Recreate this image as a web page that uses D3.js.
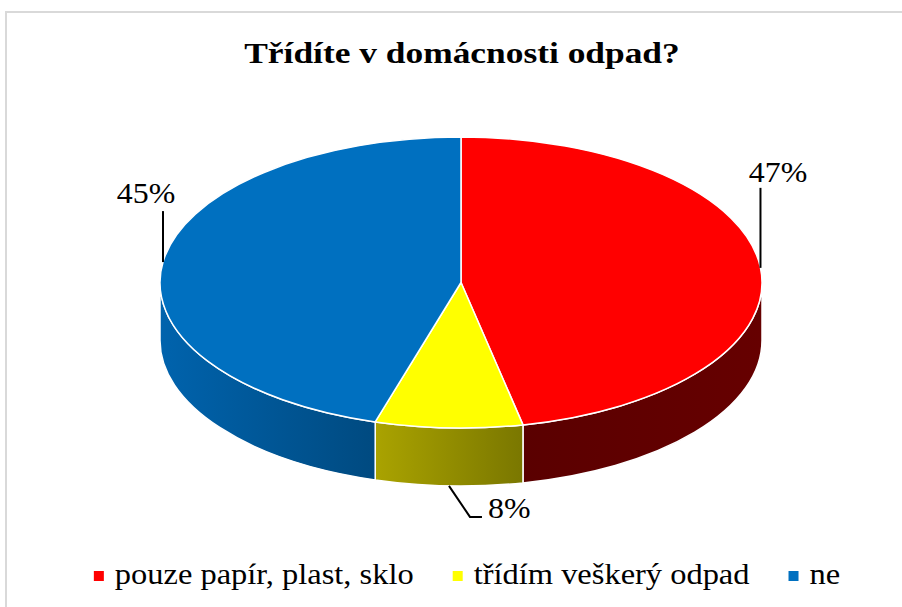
<!DOCTYPE html>
<html lang="cs">
<head>
<meta charset="utf-8">
<title>Třídíte v domácnosti odpad?</title>
<script src="https://cdn.jsdelivr.net/npm/d3@7/dist/d3.min.js"></script>
<style>
  body { margin: 0; background: #fff; }
  text { font-family: "Liberation Serif", "Times New Roman", serif; fill: #000; }
  .title { font-size: 30px; font-weight: bold; }
  .pct { font-size: 29px; }
  .leg { font-size: 29px; }
  .leader { fill: none; stroke: #000; stroke-width: 2px; }
</style>
</head>
<body>
<script>
// data
var categories = ["pouze papír, plast, sklo", "třídím veškerý odpad", "ne"];
var values = [46.7, 7.9, 45.4];
var topColors = ["#ff0000", "#ffff00", "#0070c0"];
var sideColors = [["#5a0000", "#660000"], ["#aaa300", "#7a7700"], ["#0063ad", "#004a80"]];

var w = 902, h = 607;
var cx = 461, cy = 282.5, rx = 301, ry = 145.5, depth = 58;
var fmt = d3.format(".0%");

// leader lines: anchor angle on the rim, dy = on top face or bottom of wall
var leaderLayout = [
  { angle: 1.47, dy: 0, pts: [[0, -80]], tx: 17.5, ty: -86, anchor: "middle" },
  { angle: Math.PI + 0.04, dy: depth, pts: [[21, 31], [33, 31]], tx: 39, ty: 32, anchor: "start" },
  { angle: 2 * Math.PI - 1.43, dy: 0, pts: [[0, -51]], tx: -17, ty: -59, anchor: "middle" }
];

var svg = d3.select("body").append("svg").attr("width", w).attr("height", h);

svg.append("rect").attr("x", 6).attr("y", 12).attr("width", w).attr("height", h)
   .attr("fill", "#fff").attr("stroke", "#d9d9d9").attr("stroke-width", 2);

// source text looks a bit stretched sideways, so squeeze it in with a scale
function stretchText(parent, x, y, str, cls, anchor, k) {
  var g = parent.append("g").attr("transform", "translate(" + x + "," + y + ") scale(" + k + ",1)");
  return g.append("text").attr("class", cls).attr("text-anchor", anchor || "start").text(str);
}

stretchText(svg, 462, 63, "Třídíte v domácnosti odpad?", "title", "middle", 1.18);

function pt(a, dy) {
  return [cx + rx * Math.sin(a), cy + dy - ry * Math.cos(a)];
}

var total = d3.sum(values);
var arcs = d3.pie().sort(null).value(function(d) { return d; })(values);

var defs = svg.append("defs");
var gWalls = svg.append("g");
var gTop = svg.append("g");

arcs.forEach(function(d, i) {
  var s = Math.max(d.startAngle, Math.PI / 2);
  var e = Math.min(d.endAngle, 3 * Math.PI / 2);
  if (e <= s) return;
  var a = pt(s, 0), b = pt(e, 0), c = pt(e, depth), f = pt(s, depth);
  var large = (e - s) > Math.PI ? 1 : 0;
  var id = "side" + i;
  var grad = defs.append("linearGradient").attr("id", id)
     .attr("gradientUnits", "userSpaceOnUse")
     .attr("x1", Math.min(a[0], b[0])).attr("x2", Math.max(a[0], b[0]))
     .attr("y1", 0).attr("y2", 0);
  grad.append("stop").attr("offset", 0).attr("stop-color", sideColors[i][0]);
  grad.append("stop").attr("offset", 1).attr("stop-color", sideColors[i][1]);
  var p = "M" + a + " A" + rx + "," + ry + " 0 " + large + " 1 " + b +
          " L" + c + " A" + rx + "," + ry + " 0 " + large + " 0 " + f + " Z";
  gWalls.append("path").attr("d", p).attr("fill", "url(#" + id + ")")
     .attr("stroke", "#fff").attr("stroke-width", 1.5).attr("stroke-linejoin", "round");
});

arcs.forEach(function(d, i) {
  var a = pt(d.startAngle, 0), b = pt(d.endAngle, 0);
  var large = (d.endAngle - d.startAngle) > Math.PI ? 1 : 0;
  var p = "M" + cx + "," + cy + " L" + a + " A" + rx + "," + ry + " 0 " + large + " 1 " + b + " Z";
  gTop.append("path").attr("d", p).attr("fill", topColors[i])
     .attr("stroke", "#fff").attr("stroke-width", 1.5).attr("stroke-linejoin", "round");
});

// data labels
var gLab = svg.append("g");
arcs.forEach(function(d, i) {
  var L = leaderLayout[i];
  var o = pt(L.angle, L.dy);
  var line = [o].concat(L.pts.map(function(q) { return [o[0] + q[0], o[1] + q[1]]; }));
  gLab.append("path").attr("class", "leader").attr("d", d3.line()(line));
  stretchText(gLab, o[0] + L.tx, o[1] + L.ty, fmt(d.value / total), "pct", L.anchor, 1.1);
});

// legend
var legY = 584, mark = 10, gapIn = 11, gapOut = 39, sx = 1.12;
var gLeg = svg.append("g");
var items = categories.map(function(c, i) {
  var g = gLeg.append("g");
  g.append("rect").attr("width", mark).attr("height", mark).attr("y", -13).attr("fill", topColors[i]);
  var t = stretchText(g, mark + gapIn, 0, c, "leg", "start", sx);
  return { g: g, wdt: mark + gapIn + t.node().getComputedTextLength() * sx };
});
var legW = d3.sum(items, function(d) { return d.wdt; }) + gapOut * (items.length - 1);
var xx = 467 - legW / 2;
items.forEach(function(it) {
  it.g.attr("transform", "translate(" + xx + "," + legY + ")");
  xx += it.wdt + gapOut;
});
</script>
</body>
</html>
